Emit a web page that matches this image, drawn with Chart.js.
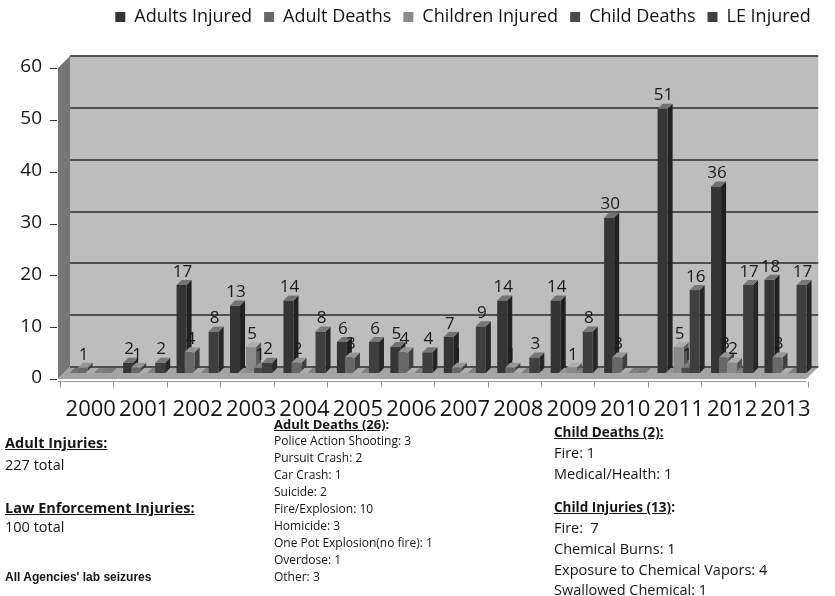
<!DOCTYPE html>
<html>
<head>
<meta charset="utf-8">
<script src="https://cdn.jsdelivr.net/npm/chart.js@4.4.1/dist/chart.umd.min.js"></script>
<style>
  body { margin: 0; background: #fff; }
  #wrap { position: relative; width: 835px; height: 596px; font-family: 'Open Sans', sans-serif; color: #151515; }
  #chart { position: absolute; left: 0; top: 0; }
  .note { position: absolute; white-space: nowrap; line-height: 16px; height: 16px; }
  .head { font-weight: bold; }
  .u { text-decoration: underline; }
  .left { font-size: 14.5px; }
  .mid { font-size: 12px; }
  .midhead { font-size: 13px; }
  .right { font-size: 14.5px; }
  .righthead { font-size: 13.5px; }
</style>
</head>
<body>
<div id="wrap">
  <canvas id="chart" width="835" height="596"></canvas>

  <div class="note left head u" style="left:5px; top:435px;">Adult Injuries:</div>
  <div class="note left" style="left:5px; top:457px;">227 total</div>
  <div class="note left head u" style="left:5px; top:500px;">Law Enforcement Injuries:</div>
  <div class="note left" style="left:5px; top:519px;">100 total</div>
  <div class="note" style="left:5px; top:569px; font-family:'Liberation Sans', Arial, sans-serif; font-weight:bold; font-size:12px;">All Agencies' lab seizures</div>

  <div class="note midhead head" style="left:274px; top:416px;"><span class="u">Adult Deaths (26)</span>:</div>
  <div class="note mid" style="left:274px; top:433px;">Police Action Shooting: 3</div>
  <div class="note mid" style="left:274px; top:450px;">Pursuit Crash: 2</div>
  <div class="note mid" style="left:274px; top:467px;">Car Crash: 1</div>
  <div class="note mid" style="left:274px; top:484px;">Suicide: 2</div>
  <div class="note mid" style="left:274px; top:501px;">Fire/Explosion: 10</div>
  <div class="note mid" style="left:274px; top:518px;">Homicide: 3</div>
  <div class="note mid" style="left:274px; top:535px;">One Pot Explosion(no fire): 1</div>
  <div class="note mid" style="left:274px; top:552px;">Overdose: 1</div>
  <div class="note mid" style="left:274px; top:569px;">Other: 3</div>

  <div class="note righthead head u" style="left:554px; top:424px;">Child Deaths (2):</div>
  <div class="note right" style="left:554px; top:445px;">Fire: 1</div>
  <div class="note right" style="left:554px; top:466px;">Medical/Health: 1</div>
  <div class="note righthead head" style="left:554px; top:499px;"><span class="u">Child Injuries (13)</span>:</div>
  <div class="note right" style="left:554px; top:520px;">Fire:&nbsp; 7</div>
  <div class="note right" style="left:554px; top:541px;">Chemical Burns: 1</div>
  <div class="note right" style="left:554px; top:562px;">Exposure to Chemical Vapors: 4</div>
  <div class="note right" style="left:554px; top:582px;">Swallowed Chemical: 1</div>
</div>

<script>
const years = ['2000', '2001', '2002', '2003', '2004', '2005', '2006', '2007', '2008', '2009', '2010', '2011', '2012', '2013'];
const adultsInjured   = [0, 2, 17, 13, 14, 6, 5, 7, 14, 14, 30, 51, 36, 18];
const adultDeaths     = [1, 1, 4, 0, 2, 3, 4, 1, 1, 0, 3, 0, 3, 3];
const childrenInjured = [0, 0, 0, 5, 0, 0, 0, 0, 0, 1, 0, 5, 2, 0];
const childDeaths     = [0, 0, 0, 1, 0, 0, 0, 0, 0, 0, 0, 1, 0, 0];
const leInjured       = [0, 2, 8, 2, 8, 6, 4, 9, 3, 8, 0, 16, 17, 17];
const yTicks = [0, 10, 20, 30, 40, 50, 60];

const seriesNames  = ['Adults Injured', 'Adult Deaths', 'Children Injured', 'Child Deaths', 'LE Injured'];
const seriesData   = [adultsInjured, adultDeaths, childrenInjured, childDeaths, leInjured];
const seriesColors = ['#353535', '#686868', '#8a8a8a', '#4a4a4a', '#3f3f3f'];

const WALL = 6;       // offset of back wall / front edge from the bar plane
const BAR_DEPTH = 5;  // depth of each column

function shade(hex, f) {
  const n = parseInt(hex.slice(1), 16);
  const ch = [(n >> 16) & 255, (n >> 8) & 255, n & 255].map(c =>
    Math.max(0, Math.min(255, Math.round(f > 1 ? c + (255 - c) * (f - 1) : c * f))));
  return 'rgb(' + ch.join(',') + ')';
}

function poly(ctx, pts, fill) {
  ctx.beginPath();
  ctx.moveTo(pts[0][0], pts[0][1]);
  for (let i = 1; i < pts.length; i++) ctx.lineTo(pts[i][0], pts[i][1]);
  ctx.closePath();
  ctx.fillStyle = fill;
  ctx.fill();
}

// draws the walls, floor, gridlines and 3D columns in place of the flat bars
const box3d = {
  id: 'box3d',
  afterLayout(chart) {
    const lg = chart.legend;
    const dx = 463 - (lg.left + lg.right) / 2;
    const dy = 17 - (lg.top + lg.options.labels.padding + 9);
    lg.left += dx; lg.right += dx;
    lg.top += dy; lg.bottom += dy;
  },
  beforeDatasetsDraw(chart) {
    const { ctx, chartArea: a, scales: { y } } = chart;
    const d = WALL;
    ctx.save();

    // back wall
    ctx.fillStyle = '#bdbdbd';
    ctx.fillRect(a.left + d, a.top - d, a.right - a.left, a.bottom - a.top);
    // left wall
    poly(ctx, [[a.left - d, a.top + d], [a.left + d, a.top - d], [a.left + d, a.bottom - d], [a.left - d, a.bottom + d]], '#767676');
    // floor
    poly(ctx, [[a.left - d, a.bottom + d], [a.left + d, a.bottom - d], [a.right + d, a.bottom - d], [a.right - d, a.bottom + d]], '#a4a4a4');

    // gridlines on the back wall
    ctx.strokeStyle = '#505050';
    ctx.lineWidth = 2;
    yTicks.forEach(v => {
      const py = Math.round(y.getPixelForValue(v) - d);
      ctx.beginPath();
      ctx.moveTo(a.left + d, py);
      ctx.lineTo(a.right + d, py);
      ctx.stroke();
    });

    // front axis with category ticks
    ctx.lineWidth = 1;
    ctx.strokeStyle = '#9a9a9a';
    const fy = Math.round(a.bottom + d + 2) + 0.5;
    ctx.beginPath();
    ctx.moveTo(a.left - d, fy);
    ctx.lineTo(a.right - d, fy);
    for (let i = 0; i <= years.length; i++) {
      const px = Math.round(a.left - 4 + (a.right - a.left) * i / years.length) + 0.5;
      ctx.moveTo(px, fy);
      ctx.lineTo(px, fy + 6);
    }
    ctx.stroke();

    // value-axis tick dashes
    ctx.strokeStyle = '#333';
    yTicks.forEach(v => {
      const py = Math.round(y.getPixelForValue(v) + d) + 0.5;
      ctx.beginPath();
      ctx.moveTo(a.left - 14, py);
      ctx.lineTo(a.left - 7, py);
      ctx.stroke();
    });

    // columns, in series order so later columns cover earlier side faces
    const bd = BAR_DEPTH;
    chart.data.datasets.forEach((ds, i) => {
      const col = seriesColors[i];
      chart.getDatasetMeta(i).data.forEach(el => {
        const l = el.x - el.width / 2, r = el.x + el.width / 2, t = el.y, b = el.base;
        poly(ctx, [[r, b], [r + bd, b - bd], [r + bd, t - bd], [r, t]], shade(col, 0.62));
        ctx.fillStyle = col;
        ctx.fillRect(l, t, r - l, b - t);
        poly(ctx, [[l, t], [l + bd, t - bd], [r + bd, t - bd], [r, t]], shade(col, 1.3));
      });
    });

    // value labels
    ctx.fillStyle = '#1a1a1a';
    ctx.font = '17px "Open Sans"';
    ctx.textAlign = 'center';
    ctx.textBaseline = 'middle';
    chart.data.datasets.forEach((ds, i) => {
      chart.getDatasetMeta(i).data.forEach((el, j) => {
        const v = ds.data[j];
        if (v > 0) ctx.fillText(String(v), el.x + 1, el.y - 13);
      });
    });

    ctx.restore();
    return false;
  }
};

new Chart(document.getElementById('chart'), {
  type: 'bar',
  data: {
    labels: years,
    datasets: seriesNames.map((name, i) => ({
      label: name,
      data: seriesData[i],
      backgroundColor: seriesColors[i],
      borderWidth: 0,
      categoryPercentage: 0.75,
      barPercentage: 1.25
    }))
  },
  options: {
    responsive: false,
    animation: false,
    events: [],
    layout: { padding: { left: 20, right: 9, top: 22, bottom: 173 } },
    plugins: {
      legend: {
        position: 'top',
        labels: {
          boxWidth: 10,
          boxHeight: 10,
          padding: 12,
          color: '#151515',
          font: { family: 'Open Sans', size: 18 }
        }
      },
      tooltip: { enabled: false }
    },
    scales: {
      x: {
        grid: { display: false, drawTicks: false },
        border: { display: false },
        ticks: {
          padding: 24,
          color: '#151515',
          autoSkip: false,
          maxRotation: 0,
          font: { family: 'Open Sans', size: 22 }
        },
        afterFit(s) { s.height = 50; }
      },
      y: {
        min: 0,
        max: 60,
        grid: { display: false, drawTicks: false },
        border: { display: false },
        afterBuildTicks(s) { s.ticks = yTicks.map(v => ({ value: v })); },
        ticks: {
          padding: 22,
          labelOffset: 5,
          color: '#151515',
          font: { family: 'Open Sans', size: 19 }
        },
        afterFit(s) { s.width = 44; }
      }
    }
  },
  plugins: [box3d]
});
</script>
</body>
</html>
